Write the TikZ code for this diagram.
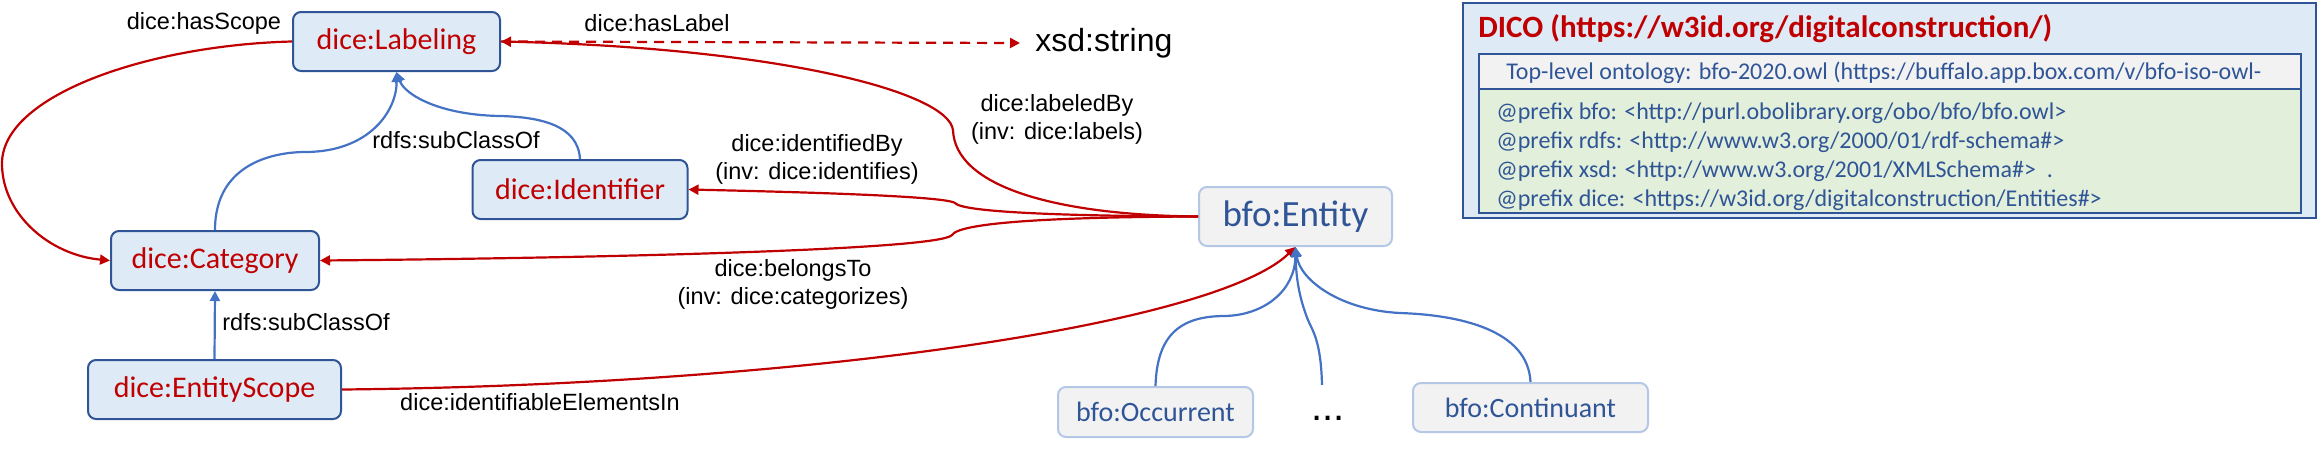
\documentclass[tikz,border=0pt]{standalone}
\usepackage{fontspec}
\setmainfont{Liberation Sans}
\newfontfamily\calibri{Carlito}
\usepackage{xcolor}
\usepackage{tikz}
\usetikzlibrary{positioning,arrows.meta,calc}
\definecolor{dicered}{HTML}{C00000}
\definecolor{darkblue}{HTML}{2F5597}
\definecolor{boxfill}{HTML}{DEEBF7}
\definecolor{linkblue}{HTML}{4472C4}
\definecolor{greyfill}{HTML}{F2F2F2}
\definecolor{lightedge}{HTML}{B4C7E7}
\definecolor{prefixfill}{HTML}{E2EFDA}

\begin{document}
\begin{tikzpicture}[x=0.5pt,y=-0.5pt,
  dicebox/.style={draw=darkblue,line width=1pt,fill=boxfill,rounded corners=4pt,text=dicered,inner sep=0pt,minimum height=29.5pt,font=\calibri\fontsize{15}{17}\selectfont},
  bfobox/.style={draw=lightedge,line width=1pt,fill=greyfill,rounded corners=4pt,text=darkblue,inner sep=0pt,font=\calibri\fontsize{14}{16}\selectfont},
  lbl/.style={font=\fontsize{11.75}{14}\selectfont,align=center,inner sep=0pt},
  redlink/.style={dicered,line width=1.1pt,-{Triangle[length=5pt,width=5pt]}},
  bluelink/.style={linkblue,line width=1.1pt,-{Triangle[length=5pt,width=5pt]}}]
  \useasboundingbox (0,0) rectangle (2320,456);
  % dice classes
  \node[dicebox,minimum width=103.5pt] (labeling) at (396.5,41.5) {dice:Labeling};
  \node[dicebox,minimum width=107.5pt] (identifier) at (580,189.5) {dice:Identifier};
  \node[dicebox,minimum width=104pt] (category) at (215,260.5) {dice:Category};
  \node[dicebox,minimum width=126.5pt] (entityscope) at (214.5,389.5) {dice:EntityScope};
  % bfo classes
  \node[bfobox,minimum width=96.5pt,minimum height=29.5pt,font=\calibri\fontsize{18.5}{20}\selectfont] (entity) at (1295.5,216.5) {bfo:Entity};
  \node[bfobox,minimum width=97.5pt,minimum height=25pt] (occurrent) at (1155.5,412) {bfo:Occurrent};
  \node[bfobox,minimum width=117.5pt,minimum height=24.5pt] (continuant) at (1530.5,407.5) {bfo:Continuant};
  \node[font=\fontsize{20}{22}\selectfont,inner sep=0pt] (dots) at (1328,418) {...};
  \coordinate (etc) at (1322,385);
  \node[anchor=west,inner xsep=7.5pt,inner ysep=0pt,font=\fontsize{16}{18}\selectfont] (xsd) at (1020,43) {xsd:string};
  % red object properties
  \draw[redlink] (labeling.west) .. controls (150,45) and (0,95) .. (2,165) .. controls (3,215) and (50,255) .. (category.west);
  \draw[redlink,dashed,dash pattern=on 5pt off 3.5pt] (labeling.east) -- (xsd.west);
  \draw[redlink] (entity.west) .. controls (1050,215) and (955,185) .. (953,130) .. controls (948,92) and (780,48) .. (labeling.east);
  \draw[redlink] (entity.west) .. controls (1060,216) and (962,212) .. (955,203) .. controls (945,196) and (800,192) .. (identifier.east);
  \draw[redlink] (entity.west) .. controls (1060,217) and (960,222) .. (952,235) .. controls (940,250) and (600,258) .. (category.east);
  \draw[redlink] (entityscope.east) .. controls (800,385) and (1215,325) .. (entity.south);
  % blue subclass links
  \draw[bluelink] (category.north) .. controls (215,160) and (280,152) .. (305,152) .. controls (370,152) and (397,110) .. (labeling.south);
  \draw[bluelink] (identifier.north) .. controls (578,125) and (540,117) .. (500,116) .. controls (440,115) and (405,95) .. (labeling.south);
  \draw[bluelink] (entityscope.north) -- (category.south);
  \draw[bluelink] (occurrent.north) .. controls (1157,335) and (1180,316) .. (1225,316) .. controls (1265,315) and (1295,290) .. (entity.south);
  \draw[bluelink] (etc) .. controls (1321,340) and (1312,330) .. (1308,320) .. controls (1300,300) and (1296,280) .. (entity.south);
  \draw[bluelink] (continuant.north) .. controls (1528,330) and (1460,315) .. (1400,313) .. controls (1340,310) and (1300,280) .. (entity.south);
  % edge labels
  \node[lbl] (hasscope) at (204,23) {dice:hasScope};
  \node[lbl] (haslabel) at (657,23) {dice:hasLabel};
  \node[lbl] (subclassa) at (456,140) {rdfs:subClassOf};
  \node[lbl] (subclassb) at (306,322) {rdfs:subClassOf};
  \node[lbl] (identifiedby) at (817,159) {dice:identifiedBy\\(inv: dice:identifies)};
  \node[lbl] (belongsto) at (793,284) {dice:belongsTo\\(inv: dice:categorizes)};
  \node[lbl] (labeledby) at (1057,119) {dice:labeledBy\\(inv: dice:labels)};
  \node[lbl] (elementsin) at (540,402) {dice:identifiableElementsIn};
  % namespace box
  \draw[darkblue,line width=1pt,fill=boxfill] (1463,3) rectangle (2316,218);
  \draw[darkblue,line width=1pt,fill=greyfill] (1479,54) rectangle (2301,89);
  \draw[darkblue,line width=1pt,fill=prefixfill] (1479,89) rectangle (2301,213);
  \node[anchor=west,inner sep=0pt,text=dicered,font=\calibri\bfseries\fontsize{15.5}{17}\selectfont] (dico) at (1478,29) {DICO (https://w3id.org/digitalconstruction/)};
  \node[anchor=west,inner sep=0pt,text=darkblue,font=\calibri\fontsize{12}{14}\selectfont] (toplevel) at (1506,73) {Top-level ontology: bfo-2020.owl (https://buffalo.app.box.com/v/bfo-iso-owl-};
  \node[anchor=north west,inner sep=0pt,align=left,text=darkblue,font=\calibri\fontsize{12}{14.5}\selectfont] (prefixes) at (1496,102) {@prefix bfo: <http://purl.obolibrary.org/obo/bfo/bfo.owl>\\@prefix rdfs: <http://www.w3.org/2000/01/rdf-schema\#>\\@prefix xsd: <http://www.w3.org/2001/XMLSchema\#> \ .\\@prefix dice: <https://w3id.org/digitalconstruction/Entities\#>};
\end{tikzpicture}
\end{document}
